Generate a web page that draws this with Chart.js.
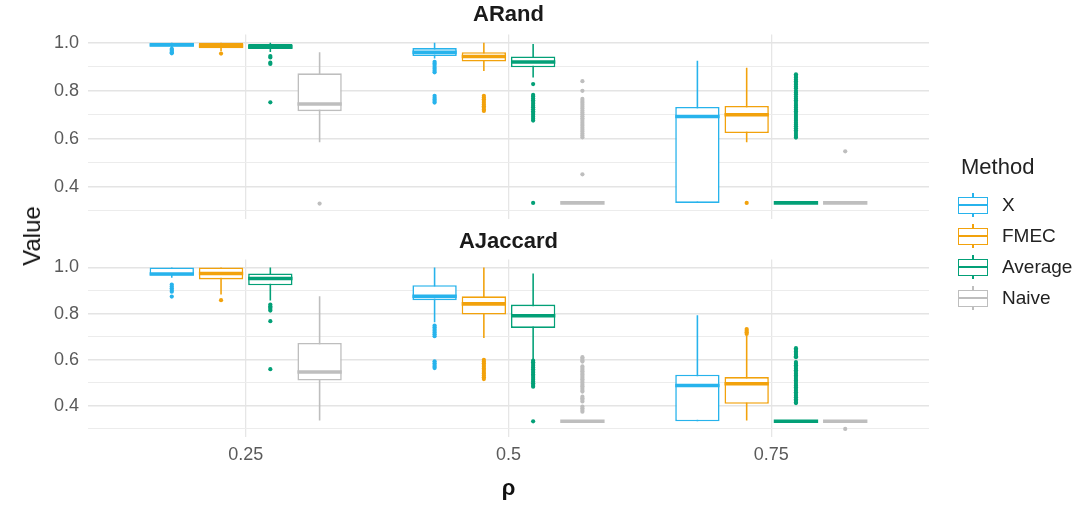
<!DOCTYPE html>
<html>
<head>
<meta charset="utf-8">
<script src="https://cdn.jsdelivr.net/npm/chart.js@4.4.1/dist/chart.umd.min.js"></script>
<style>
html,body{margin:0;padding:0;background:#fff;}
#wrap{position:relative;width:1082px;height:505px;overflow:hidden;background:#fff;font-family:"Liberation Sans",Arial,sans-serif;}
#cTop{position:absolute;left:0;top:0;z-index:2;}
#cBot{position:absolute;left:0;top:229px;z-index:1;}
#ytitle{position:absolute;left:32px;top:236px;transform:translate(-50%,-50%) rotate(-90deg);font-size:24px;line-height:28px;color:#111;white-space:nowrap;z-index:3;}
.ltitle{position:absolute;left:961px;top:154px;font-size:22px;line-height:26px;color:#222;z-index:3;}
.lkey{position:absolute;left:958px;width:30px;height:24px;z-index:3;}
.lwhisk{position:absolute;left:14.25px;top:0;width:1.5px;height:24px;}
.lbox{position:absolute;left:0;top:3.5px;width:30px;height:17px;box-sizing:border-box;background:#fff;}
.lmed{position:absolute;left:0;top:11.25px;width:30px;height:1.5px;}
.llab{position:absolute;left:1002px;font-size:19px;line-height:24px;color:#222;white-space:nowrap;z-index:3;}
</style>
</head>
<body>
<div id="wrap">
  <canvas id="cTop" width="1082" height="239"></canvas>
  <canvas id="cBot" width="1082" height="276"></canvas>
  <div id="ytitle">Value</div>
  <div id="legend"></div>
</div>
<script>
// ---------------- data ----------------
const rhoValues = [0.25, 0.5, 0.75];
const rhoLabels = ['0.25', '0.5', '0.75'];
const methods = ['X', 'FMEC', 'Average', 'Naive'];
const methodColors = ['#27B3EC', '#F2A20C', '#03A077', '#BEBEBE'];
const panelTitles = ['ARand', 'AJaccard'];
const yTickValues = [0.3, 0.4, 0.5, 0.6, 0.7, 0.8, 0.9, 1.0];
const yTickLabels = ['', '0.4', '', '0.6', '', '0.8', '', '1.0'];

// box statistics per rho: [lower whisker, Q1, median, Q3, upper whisker]
const arandX       = [[0.978, 0.985, 0.991, 1.0, 1.0], [0.935, 0.945, 0.960, 0.978, 1.0], [0.333, 0.333, 0.693, 0.733, 0.925]];
const arandFMEC    = [[0.965, 0.977, 0.987, 1.0, 1.0], [0.883, 0.922, 0.943, 0.961, 1.0], [0.586, 0.624, 0.700, 0.737, 0.896]];
const arandAverage = [[0.962, 0.974, 0.983, 0.995, 1.0], [0.855, 0.898, 0.920, 0.943, 0.995], [0.333, 0.333, 0.333, 0.333, 0.333]];
const arandNaive   = [[0.586, 0.715, 0.745, 0.873, 0.961], [0.333, 0.333, 0.333, 0.333, 0.333], [0.333, 0.333, 0.333, 0.333, 0.333]];

const ajacX        = [[0.955, 0.965, 0.972, 1.0, 1.0], [0.762, 0.858, 0.875, 0.923, 1.0], [0.333, 0.333, 0.488, 0.535, 0.793]];
const ajacFMEC     = [[0.883, 0.948, 0.974, 1.0, 1.0], [0.694, 0.796, 0.842, 0.875, 1.0], [0.336, 0.409, 0.496, 0.525, 0.705]];
const ajacAverage  = [[0.857, 0.923, 0.952, 0.974, 1.0], [0.600, 0.738, 0.791, 0.839, 0.974], [0.333, 0.333, 0.333, 0.333, 0.333]];
const ajacNaive    = [[0.336, 0.510, 0.547, 0.673, 0.875], [0.333, 0.333, 0.333, 0.333, 0.333], [0.333, 0.333, 0.333, 0.333, 0.333]];

// outliers per rho
const arandXOut = [
  [0.956, 0.961, 0.966, 0.971, 0.975],
  [0.921, 0.914, 0.907, 0.899, 0.892, 0.884, 0.877, 0.779, 0.771, 0.764, 0.757, 0.751],
  []
];
const arandFMECOut = [
  [0.955],
  [0.779, 0.772, 0.765, 0.757, 0.75, 0.743, 0.736, 0.729, 0.722, 0.716],
  [0.333]
];
const arandAverageOut = [
  [0.945, 0.939, 0.917, 0.912, 0.752],
  [0.828, 0.783, 0.776, 0.768, 0.761, 0.753, 0.746, 0.738, 0.731, 0.723, 0.715, 0.708, 0.7, 0.692, 0.684, 0.676, 0.333],
  [0.869, 0.862, 0.855, 0.847, 0.84, 0.833, 0.826, 0.818, 0.811, 0.8, 0.793, 0.786, 0.776, 0.768, 0.761, 0.753, 0.745, 0.738,
   0.73, 0.722, 0.715, 0.707, 0.699, 0.691, 0.683, 0.675, 0.667, 0.66, 0.652, 0.644, 0.636, 0.628, 0.62, 0.612, 0.605]
];
const arandNaiveOut = [
  [0.33],
  [0.84, 0.80, 0.766, 0.758, 0.75, 0.742, 0.734, 0.726, 0.718, 0.71, 0.702, 0.694, 0.686, 0.678, 0.67, 0.662, 0.654, 0.646,
   0.638, 0.63, 0.622, 0.614, 0.606, 0.452],
  [0.548]
];

const ajacXOut = [
  [0.926, 0.918, 0.910, 0.902, 0.895, 0.874],
  [0.748, 0.741, 0.733, 0.726, 0.718, 0.71, 0.702, 0.593, 0.585, 0.577, 0.57, 0.564],
  []
];
const ajacFMECOut = [
  [0.858],
  [0.6, 0.592, 0.585, 0.577, 0.57, 0.562, 0.555, 0.547, 0.54, 0.532, 0.524, 0.516],
  [0.712, 0.719, 0.726, 0.733]
];
const ajacAverageOut = [
  [0.839, 0.832, 0.826, 0.82, 0.813, 0.767, 0.559],
  [0.596, 0.589, 0.581, 0.574, 0.566, 0.559, 0.551, 0.544, 0.536, 0.529, 0.521, 0.513, 0.506, 0.498, 0.49, 0.483, 0.333],
  [0.65, 0.643, 0.636, 0.629, 0.622, 0.615, 0.611, 0.59, 0.583, 0.576, 0.569, 0.561, 0.554, 0.547, 0.539, 0.532, 0.525,
   0.517, 0.51, 0.503, 0.495, 0.488, 0.481, 0.473, 0.466, 0.459, 0.451, 0.444, 0.437, 0.429, 0.422, 0.415, 0.412]
];
const ajacNaiveOut = [
  [],
  [0.611, 0.604, 0.597, 0.592, 0.571, 0.564, 0.557, 0.55, 0.543, 0.536, 0.529, 0.522, 0.515, 0.508, 0.5, 0.492, 0.485,
   0.477, 0.469, 0.462, 0.44, 0.433, 0.426, 0.419, 0.397, 0.39, 0.382, 0.375],
  [0.30]
];

// ---------------- build ----------------
const FONT = '"Liberation Sans", Arial, sans-serif';
const dodge = 0.25 * 0.75 / methods.length;   // width of a method slot in rho units
const boxFrac = 0.9;

function buildDatasets(stats, outs) {
  const ds = [];
  methods.forEach((m, i) => {
    const off = (i - (methods.length - 1) / 2) * dodge;
    const col = methodColors[i];
    ds.push({
      type: 'bar', label: m + ' whisker', grouped: false,
      data: rhoValues.map((r, k) => ({x: r + off, y: [stats[i][k][0], stats[i][k][4]]})),
      backgroundColor: col, borderWidth: 0,
      categoryPercentage: 1, barPercentage: 0.032, order: 4
    });
    ds.push({
      type: 'bar', label: m, grouped: false,
      data: rhoValues.map((r, k) => ({x: r + off, y: [stats[i][k][1], stats[i][k][3]]})),
      backgroundColor: '#ffffff', borderColor: col, borderWidth: 1.6, borderSkipped: false,
      categoryPercentage: 1, barPercentage: boxFrac, order: 3
    });
    ds.push({
      type: 'scatter', label: m + ' median',
      data: rhoValues.map((r, k) => ({x: r + off, y: stats[i][k][2]})),
      pointStyle: 'line',
      pointRadius: (ctx) => {
        const xs = ctx.chart.scales.x;
        return Math.abs(xs.getPixelForValue(dodge * boxFrac) - xs.getPixelForValue(0)) / 2;
      },
      pointBorderColor: col, pointBorderWidth: 3.6, pointBackgroundColor: col,
      order: 2
    });
    ds.push({
      type: 'scatter', label: m + ' outliers',
      data: outs[i].flatMap((arr, k) => arr.map(v => ({x: rhoValues[k] + off, y: v}))),
      pointStyle: 'circle', pointRadius: 2.1, pointBackgroundColor: col,
      pointBorderWidth: 0, order: 1
    });
  });
  return ds;
}

function makeOptions(title, isBottom) {
  return {
    responsive: false, animation: false, events: [],
    layout: {padding: {left: 0, right: 153, top: isBottom ? 0 : 2, bottom: 0}},
    plugins: {
      legend: {display: false}, tooltip: {enabled: false},
      title: {
        display: true, text: title, fullSize: false, color: '#1a1a1a',
        font: {family: FONT, size: 22, weight: 'bold', lineHeight: 1.2},
        padding: {top: 0, bottom: isBottom ? 4 : 6}
      }
    },
    scales: {
      x: {
        type: 'linear', min: 0.1, max: 0.9, offset: false,
        afterBuildTicks: (s) => { s.ticks = rhoValues.map(v => ({value: v})); },
        afterFit: (s) => { s.height = isBottom ? 68 : 0; },
        ticks: {
          display: isBottom, autoSkip: false, padding: 7, color: '#5a5a5a', maxRotation: 0,
          font: {family: FONT, size: 18},
          callback: (v, i) => rhoLabels[i]
        },
        grid: {color: '#e6e6e6', lineWidth: 1.3, drawTicks: false, offset: false},
        border: {display: false},
        title: {
          display: isBottom, text: 'ρ', color: '#111',
          font: {family: FONT, size: 22, weight: 'bold'},
          padding: {top: 0, bottom: 3}
        }
      },
      y: {
        type: 'linear', min: 0.265, max: 1.035, stacked: false,
        afterBuildTicks: (s) => { s.ticks = yTickValues.map(v => ({value: v})); },
        afterFit: (s) => { s.width = 88; },
        ticks: {
          autoSkip: false, padding: 9, color: '#5a5a5a', font: {family: FONT, size: 18},
          callback: (v, i) => yTickLabels[i]
        },
        grid: {
          drawTicks: false,
          color: (c) => (c.index % 2 === 1 ? '#e4e4e4' : '#ececec'),
          lineWidth: (c) => (c.index % 2 === 1 ? 1.4 : 1.0)
        },
        border: {display: false}
      }
    }
  };
}

new Chart(document.getElementById('cTop'), {
  type: 'bar',
  data: {datasets: buildDatasets(
    [arandX, arandFMEC, arandAverage, arandNaive],
    [arandXOut, arandFMECOut, arandAverageOut, arandNaiveOut])},
  options: makeOptions(panelTitles[0], false)
});

new Chart(document.getElementById('cBot'), {
  type: 'bar',
  data: {datasets: buildDatasets(
    [ajacX, ajacFMEC, ajacAverage, ajacNaive],
    [ajacXOut, ajacFMECOut, ajacAverageOut, ajacNaiveOut])},
  options: makeOptions(panelTitles[1], true)
});

// ---------------- legend ----------------
(function buildLegend() {
  const wrap = document.getElementById('wrap');
  const t = document.createElement('div');
  t.className = 'ltitle';
  t.textContent = 'Method';
  wrap.appendChild(t);
  const rowCenters0 = 205, rowStep = 31;
  methods.forEach((m, i) => {
    const cy = rowCenters0 + rowStep * i;
    const key = document.createElement('div');
    key.className = 'lkey';
    key.style.top = (cy - 12) + 'px';
    const wh = document.createElement('div');
    wh.className = 'lwhisk'; wh.style.background = methodColors[i];
    const bx = document.createElement('div');
    bx.className = 'lbox'; bx.style.border = '1.5px solid ' + methodColors[i];
    const md = document.createElement('div');
    md.className = 'lmed'; md.style.background = methodColors[i];
    key.appendChild(wh); key.appendChild(bx); key.appendChild(md);
    wrap.appendChild(key);
    const lab = document.createElement('div');
    lab.className = 'llab';
    lab.style.top = (cy - 12) + 'px';
    lab.textContent = m;
    wrap.appendChild(lab);
  });
})();
</script>
</body>
</html>
